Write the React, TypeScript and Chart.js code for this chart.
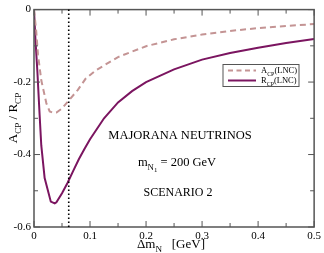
import React, { useEffect, useRef } from "react";
import { Chart, registerables } from "chart.js";

Chart.register(...registerables);

// A_CP(LNC) – dashed curve
const acpX = [0, 0.004, 0.007, 0.013, 0.022, 0.028, 0.035, 0.04, 0.05, 0.063, 0.078, 0.092, 0.11, 0.15, 0.2, 0.25, 0.3, 0.35, 0.4, 0.45, 0.5];
const acpY = [0, -0.06, -0.123, -0.195, -0.258, -0.281, -0.285, -0.284, -0.273, -0.249, -0.222, -0.191, -0.168, -0.131, -0.101, -0.082, -0.069, -0.059, -0.051, -0.045, -0.04];

// R_CP(LNC) – solid curve
const rcpX = [0, 0.0025, 0.006, 0.01, 0.013, 0.019, 0.03, 0.037, 0.04, 0.05, 0.06, 0.07, 0.08, 0.09, 0.1, 0.125, 0.15, 0.175, 0.2, 0.25, 0.3, 0.35, 0.4, 0.45, 0.5];
const rcpY = [0, -0.08, -0.17, -0.29, -0.375, -0.465, -0.53, -0.535, -0.532, -0.507, -0.478, -0.445, -0.413, -0.385, -0.358, -0.3, -0.256, -0.225, -0.2, -0.165, -0.138, -0.12, -0.105, -0.092, -0.081];

const xTicks = [0, 0.1, 0.2, 0.3, 0.4, 0.5];
const yTicks = [0, -0.2, -0.4, -0.6];
const xMinorTicks = [0.05, 0.15, 0.25, 0.35, 0.45];
const yMinorTicks = [-0.1, -0.3, -0.5];
const markerX = 0.062;

const FONT = "'Liberation Serif', 'DejaVu Serif', serif";
const SOLID = "#7b1560";
const DASHED = "#c49494";
const FRAME = "#555555";

type Part = { t: string; lvl?: number };

function drawParts(ctx: CanvasRenderingContext2D, parts: Part[], x: number, y: number, size: number, align: "left" | "center") {
  const sizes = [size, size * 0.7, size * 0.55];
  const offs = [0, size * 0.3, size * 0.48];
  let total = 0;
  for (const p of parts) {
    ctx.font = `${sizes[p.lvl || 0]}px ${FONT}`;
    total += ctx.measureText(p.t).width;
  }
  let cx = align === "center" ? x - total / 2 : x;
  ctx.textAlign = "left";
  ctx.textBaseline = "alphabetic";
  for (const p of parts) {
    const l = p.lvl || 0;
    ctx.font = `${sizes[l]}px ${FONT}`;
    ctx.fillText(p.t, cx, y + offs[l]);
    cx += ctx.measureText(p.t).width;
  }
}

const decor = {
  id: "decor",
  afterDraw(chart: any) {
    const ctx: CanvasRenderingContext2D = chart.ctx;
    const { left, right, top, bottom } = chart.chartArea;
    const xs = chart.scales.x;
    const ys = chart.scales.y;
    ctx.save();
    // frame
    ctx.strokeStyle = FRAME;
    ctx.lineWidth = 1.5;
    ctx.strokeRect(left, top, right - left, bottom - top);
    // ticks
    ctx.lineWidth = 1;
    const tick = (vals: number[], len: number) => {
      for (const v of vals) {
        const px = xs.getPixelForValue(v);
        ctx.beginPath();
        ctx.moveTo(px, bottom); ctx.lineTo(px, bottom - len);
        ctx.moveTo(px, top); ctx.lineTo(px, top + len);
        ctx.stroke();
      }
    };
    const tickY = (vals: number[], len: number) => {
      for (const v of vals) {
        const py = ys.getPixelForValue(v);
        ctx.beginPath();
        ctx.moveTo(left, py); ctx.lineTo(left + len, py);
        ctx.moveTo(right, py); ctx.lineTo(right - len, py);
        ctx.stroke();
      }
    };
    tick(xTicks, 6); tick(xMinorTicks, 4);
    tickY(yTicks, 6); tickY(yMinorTicks, 4);
    // dotted marker line
    const mx = xs.getPixelForValue(markerX);
    ctx.strokeStyle = "#000";
    ctx.lineWidth = 1.6;
    ctx.setLineDash([1.4, 2.6]);
    ctx.beginPath();
    ctx.moveTo(mx, top); ctx.lineTo(mx, bottom);
    ctx.stroke();
    ctx.setLineDash([]);

    ctx.fillStyle = "#000";
    // annotations
    drawParts(ctx, [{ t: "MAJORANA NEUTRINOS" }], 180, 139, 12.5, "center");
    drawParts(ctx, [{ t: "m" }, { t: "N", lvl: 1 }, { t: "1", lvl: 2 }, { t: " = 200 GeV" }], 177, 166, 12.5, "center");
    drawParts(ctx, [{ t: "SCENARIO 2" }], 178, 196, 12, "center");
    // x title
    drawParts(ctx, [{ t: "\u0394m" }, { t: "N", lvl: 1 }, { t: "   [GeV]" }], 171, 248, 13, "center");
    // y title
    ctx.save();
    ctx.translate(17, 118);
    ctx.rotate(-Math.PI / 2);
    drawParts(ctx, [{ t: "A" }, { t: "CP", lvl: 1 }, { t: " / R" }, { t: "CP", lvl: 1 }], 0, 0, 13, "center");
    ctx.restore();

    // legend
    ctx.strokeStyle = FRAME;
    ctx.lineWidth = 1;
    ctx.strokeRect(223, 64.5, 76, 22);
    ctx.lineWidth = 2;
    ctx.strokeStyle = DASHED;
    ctx.setLineDash([5, 3.5]);
    ctx.beginPath(); ctx.moveTo(228, 70.5); ctx.lineTo(256, 70.5); ctx.stroke();
    ctx.setLineDash([]);
    ctx.strokeStyle = SOLID;
    ctx.beginPath(); ctx.moveTo(228, 80.5); ctx.lineTo(256, 80.5); ctx.stroke();
    ctx.fillStyle = "#000";
    drawParts(ctx, [{ t: "A" }, { t: "CP", lvl: 1 }, { t: "(LNC)" }], 261, 73, 8.5, "left");
    drawParts(ctx, [{ t: "R" }, { t: "CP", lvl: 1 }, { t: "(LNC)" }], 261, 83, 8.5, "left");
    ctx.restore();
  },
};

export default function App() {
  const ref = useRef<HTMLCanvasElement>(null);
  useEffect(() => {
    document.body.style.margin = "0";
    const chart = new Chart(ref.current!, {
      type: "line",
      data: {
        datasets: [
          {
            label: "A_CP(LNC)",
            data: acpX.map((x, i) => ({ x, y: acpY[i] })),
            borderColor: DASHED,
            borderWidth: 2,
            borderDash: [6, 4],
            pointRadius: 0,
            tension: 0,
          },
          {
            label: "R_CP(LNC)",
            data: rcpX.map((x, i) => ({ x, y: rcpY[i] })),
            borderColor: SOLID,
            borderWidth: 2,
            pointRadius: 0,
            tension: 0,
          },
        ],
      },
      options: {
        animation: false,
        responsive: false,
        layout: { padding: { top: 4, right: 7, left: 0, bottom: 0 } },
        plugins: { legend: { display: false }, tooltip: { enabled: false } },
        scales: {
          x: {
            type: "linear",
            min: 0,
            max: 0.5,
            afterFit: (s: any) => { s.height = 26; },
            afterBuildTicks: (s: any) => { s.ticks = xTicks.map((v) => ({ value: v })); },
            grid: { display: false, drawTicks: false },
            border: { display: false },
            ticks: {
              padding: 3,
              maxRotation: 0,
              color: "#000",
              font: { family: FONT, size: 11 },
              callback: (v: any) => (v === 0 ? "0" : Number(v).toFixed(1)),
            },
          },
          y: {
            type: "linear",
            min: -0.6,
            max: 0,
            afterFit: (s: any) => { s.width = 34; },
            afterBuildTicks: (s: any) => { s.ticks = yTicks.map((v) => ({ value: v })); },
            grid: { display: false, drawTicks: false },
            border: { display: false },
            ticks: {
              padding: 3,
              color: "#000",
              font: { family: FONT, size: 11 },
              callback: (v: any) => (v === 0 ? "0" : Number(v).toFixed(1)),
            },
          },
        },
      },
      plugins: [decor],
    });
    return () => chart.destroy();
  }, []);
  return (
    <div style={{ width: 324, height: 253 }}>
      <canvas ref={ref} width={324} height={253} style={{ display: "block" }} />
    </div>
  );
}
